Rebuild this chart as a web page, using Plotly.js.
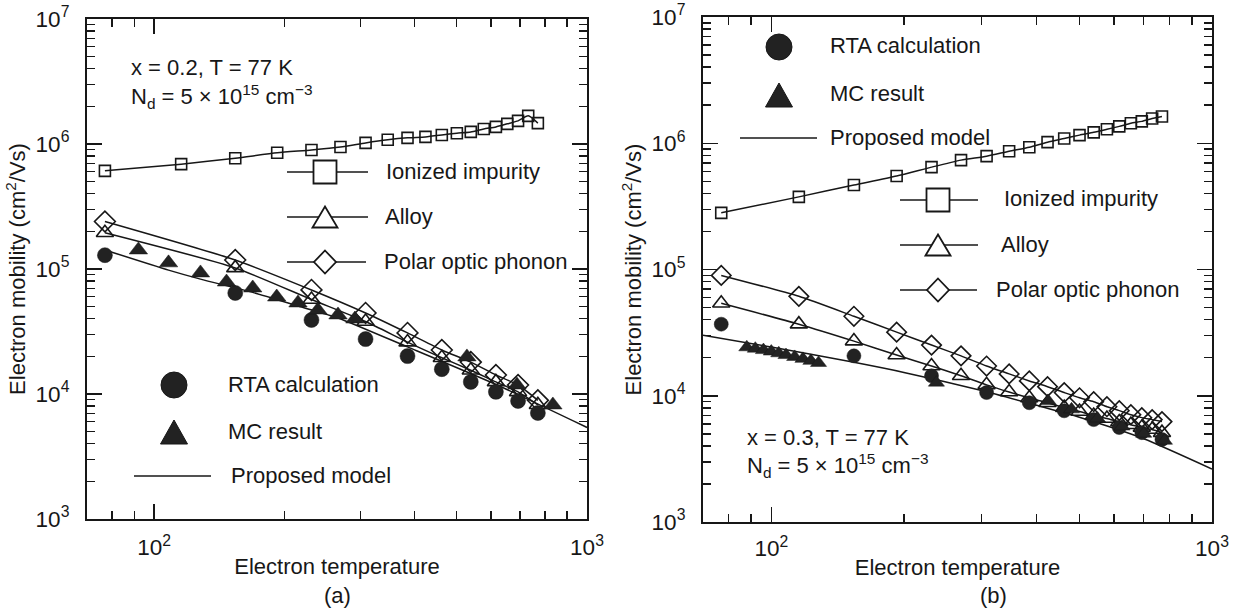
<!DOCTYPE html>
<html>
<head>
<meta charset="utf-8">
<script src="https://cdn.plot.ly/plotly-3.0.1.min.js"></script>
<style>
  html, body { margin: 0; padding: 0; background: #ffffff; }
  #chart { width: 1243px; height: 610px; }
</style>
</head>
<body>
<div id="chart"></div>
<script>
// ---------------- data ----------------
// Electron temperatures (K)
var T_all = [77, 115.5, 154, 192.5, 231, 269.5, 308, 346.5, 385, 423.5, 462, 500.5, 539, 577.5, 616, 654.5, 693, 731.5, 770];
var T_even = [77, 154, 231, 308, 385, 462, 539, 616, 693, 770];

// Panel (a): x = 0.2
var a_impurity = [6.1e5, 6.9e5, 7.7e5, 8.5e5, 8.95e5, 9.46e5, 1.02e6, 1.08e6, 1.12e6, 1.14e6, 1.18e6, 1.22e6, 1.25e6, 1.32e6, 1.37e6, 1.45e6, 1.53e6, 1.68e6, 1.47e6];
var a_alloy = [1.95e5, 1.02e5, 5.7e4, 3.8e4, 2.6e4, 1.95e4, 1.55e4, 1.25e4, 1.04e4, 8.2e3];
var a_pop = [2.4e5, 1.18e5, 6.8e4, 4.45e4, 3.08e4, 2.25e4, 1.8e4, 1.42e4, 1.18e4, 8.9e3];
var a_rta = [1.29e5, 6.43e4, 3.91e4, 2.75e4, 2.01e4, 1.58e4, 1.25e4, 1.04e4, 8.8e3, 7.05e3];
var a_mc_T = [92, 108, 128, 147, 169, 192, 215, 239, 266, 291, 528, 689, 834];
var a_mc = [1.42e5, 1.12e5, 9.3e4, 7.87e4, 7.05e4, 5.97e4, 5.35e4, 4.7e4, 4.29e4, 3.98e4, 1.98e4, 1.18e4, 8.17e3];
var a_model_T = [77, 108, 128, 169, 215, 266, 385, 620, 1000];
var a_model = [1.42e5, 9.8e4, 8.3e4, 6.5e4, 5.06e4, 4.06e4, 2.38e4, 1.18e4, 5.4e3];

// Panel (b): x = 0.3
var b_impurity = [2.81e5, 3.76e5, 4.67e5, 5.5e5, 6.47e5, 7.35e5, 7.9e5, 8.65e5, 9.3e5, 1.02e6, 1.09e6, 1.16e6, 1.22e6, 1.29e6, 1.36e6, 1.44e6, 1.49e6, 1.57e6, 1.63e6];
var b_alloy = [5.4e4, 3.69e4, 2.71e4, 2.1e4, 1.72e4, 1.44e4, 1.22e4, 1.07e4, 9.6e3, 8.8e3, 8.05e3, 7.5e3, 6.96e3, 6.6e3, 6.2e3, 5.9e3, 5.6e3, 5.4e3, 5.1e3];
var b_pop = [8.98e4, 6.13e4, 4.26e4, 3.19e4, 2.52e4, 2.07e4, 1.72e4, 1.49e4, 1.31e4, 1.18e4, 1.06e4, 9.64e3, 8.97e3, 8.19e3, 7.62e3, 7.08e3, 6.71e3, 6.47e3, 6.24e3];
var b_rta = [3.69e4, 2.07e4, 1.44e4, 1.06e4, 8.8e3, 7.6e3, 6.47e3, 5.6e3, 5.1e3, 4.5e3];
var b_mc_T = [88, 92, 96, 100, 104, 108, 113, 118, 123, 128, 237, 425, 480, 550, 625, 700, 780];
var b_mc = [2.42e4, 2.36e4, 2.3e4, 2.24e4, 2.17e4, 2.1e4, 2.03e4, 1.96e4, 1.89e4, 1.82e4, 1.27e4, 9.1e3, 7.8e3, 6.6e3, 5.7e3, 5.0e3, 4.4e3];
var b_model_T = [70, 100, 154, 200, 300, 400, 500, 700, 1000];
var b_model = [3.02e4, 2.43e4, 1.84e4, 1.53e4, 1.10e4, 8.4e3, 6.76e3, 4.57e3, 2.63e3];

// Texts
var xTitle = 'Electron temperature';
var yTitle = 'Electron mobility (cm<sup>2</sup>/Vs)';
var seriesNames = ['Ionized impurity', 'Alloy', 'Polar optic phonon', 'RTA calculation', 'MC result', 'Proposed model'];

// ---------------- styling ----------------
var W = 1243, H = 610;
var FONT = 'Liberation Sans, Arial, Helvetica, sans-serif';
var INK = '#171717';
function PX(px) { return px / W; }
function PY(py) { return 1 - py / H; }

function lineTrace(x, y, xa, ya, shape) {
  return { x: x, y: y, xaxis: xa, yaxis: ya, type: 'scatter', mode: 'lines',
           line: { color: INK, width: 1.5, shape: shape || 'spline', smoothing: 0.6 },
           showlegend: false, hoverinfo: 'skip' };
}
function markTrace(name, x, y, xa, ya, symbol, size, withLine) {
  var open = symbol.indexOf('open') >= 0;
  return { name: name, x: x, y: y, xaxis: xa, yaxis: ya, type: 'scatter',
           mode: withLine ? 'lines+markers' : 'markers',
           line: { color: INK, width: 1.5, shape: 'spline', smoothing: 0.6 },
           marker: { symbol: symbol, size: size, color: open ? INK : '#222222',
                     line: { color: INK, width: open ? 1.6 : 0.5 } },
           showlegend: false };
}

var traces = [
  // panel (a)
  markTrace(seriesNames[0], T_all, a_impurity, 'x', 'y', 'square-open', 11, true),
  markTrace(seriesNames[1], T_even, a_alloy, 'x', 'y', 'triangle-up-open', 15, true),
  markTrace(seriesNames[2], T_even, a_pop, 'x', 'y', 'diamond-open', 16, true),
  lineTrace(a_model_T, a_model, 'x', 'y'),
  markTrace(seriesNames[3], T_even, a_rta, 'x', 'y', 'circle', 15, false),
  markTrace(seriesNames[4], a_mc_T, a_mc, 'x', 'y', 'triangle-up', 16, false),
  // panel (b)
  markTrace(seriesNames[0], T_all, b_impurity, 'x2', 'y2', 'square-open', 11, true),
  markTrace(seriesNames[1], T_all, b_alloy, 'x2', 'y2', 'triangle-up-open', 15, true),
  markTrace(seriesNames[2], T_all, b_pop, 'x2', 'y2', 'diamond-open', 15, true),
  lineTrace(b_model_T, b_model, 'x2', 'y2'),
  markTrace(seriesNames[3], T_even, b_rta, 'x2', 'y2', 'circle', 14, false),
  markTrace(seriesNames[4], b_mc_T, b_mc, 'x2', 'y2', 'triangle-up', 14, false)
];

function axisBase() {
  return {
    type: 'log', dtick: 1, exponentformat: 'power',
    showgrid: false, zeroline: false, showline: true, linecolor: INK, linewidth: 2,
    mirror: 'allticks', ticks: 'inside', ticklen: 15, tickwidth: 1.5, tickcolor: INK,
    tickfont: { size: 18, color: INK, family: FONT }, ticklabelstandoff: 10,
    minor: { ticks: 'inside', ticklen: 8, tickwidth: 1.5, tickcolor: INK, dtick: 'D1', showgrid: false }
  };
}
function xAxis(domain, anchor, standoff) {
  var a = axisBase();
  a.range = [Math.log10(70), 3];
  a.domain = domain; a.anchor = anchor;
  a.ticklabelstandoff = standoff;
  a.title = { text: xTitle, font: { size: 22, color: INK, family: FONT }, standoff: 0 };
  return a;
}
function yAxis(domain, anchor) {
  var a = axisBase();
  a.range = [3, 7];
  a.domain = domain; a.anchor = anchor;
  a.ticklabelstandoff = 12;
  a.title = { text: yTitle, font: { size: 22, color: INK, family: FONT }, standoff: 4 };
  return a;
}

// ---------------- legend keys (layout decorations) ----------------
var shapes = [];
var annotations = [];
function addLine(x0, x1, y) {
  shapes.push({ type: 'line', xref: 'paper', yref: 'paper', x0: PX(x0), x1: PX(x1), y0: PY(y), y1: PY(y),
                line: { color: INK, width: 1.5 } });
}
function addSymbol(kind, cx, cy, w, h) {
  var st = { xref: 'paper', yref: 'paper', line: { color: INK, width: 1.8 }, fillcolor: '#ffffff' };
  if (kind === 'square') {
    st.type = 'rect'; st.x0 = PX(cx - w / 2); st.x1 = PX(cx + w / 2); st.y0 = PY(cy + h / 2); st.y1 = PY(cy - h / 2);
  } else if (kind === 'circle') {
    st.type = 'circle'; st.x0 = PX(cx - w / 2); st.x1 = PX(cx + w / 2); st.y0 = PY(cy + h / 2); st.y1 = PY(cy - h / 2);
    st.fillcolor = '#222222'; st.line = { color: INK, width: 1 };
  } else if (kind === 'tri' || kind === 'trifill') {
    st.type = 'path';
    st.path = 'M' + PX(cx - w / 2) + ',' + PY(cy + h / 2) + ' L' + PX(cx + w / 2) + ',' + PY(cy + h / 2) +
              ' L' + PX(cx) + ',' + PY(cy - h / 2) + ' Z';
    if (kind === 'trifill') { st.fillcolor = '#222222'; st.line = { color: INK, width: 1 }; }
  } else if (kind === 'diamond') {
    st.type = 'path';
    st.path = 'M' + PX(cx) + ',' + PY(cy - h / 2) + ' L' + PX(cx + w / 2) + ',' + PY(cy) +
              ' L' + PX(cx) + ',' + PY(cy + h / 2) + ' L' + PX(cx - w / 2) + ',' + PY(cy) + ' Z';
  }
  shapes.push(st);
}
function addText(text, x, y, anchor, yanchor) {
  annotations.push({ text: text, xref: 'paper', yref: 'paper', x: PX(x), y: PY(y),
                     xanchor: anchor || 'left', yanchor: yanchor || 'middle', showarrow: false,
                     font: { size: 22, color: INK, family: FONT } });
}

// panel (a) component legend
var keyA = [
  { kind: 'square', label: 0, cx: 325, cy: 172, w: 23, h: 23, l0: 287, l1: 368, tx: 384 },
  { kind: 'tri', label: 1, cx: 325, cy: 217, w: 25, h: 21, l0: 287, l1: 368, tx: 383 },
  { kind: 'diamond', label: 2, cx: 325, cy: 262, w: 22, h: 23, l0: 287, l1: 366, tx: 382 }
];
var keyA2 = [
  { kind: 'circle', label: 3, cx: 174, cy: 385, w: 26, h: 26, tx: 226 },
  { kind: 'trifill', label: 4, cx: 174, cy: 432, w: 27, h: 24, tx: 226 },
  { kind: 'none', label: 5, l0: 134, l1: 211, cy: 476, tx: 229 }
];
var keyB = [
  { kind: 'square', label: 0, cx: 938, cy: 200, w: 23, h: 23, l0: 900, l1: 978, tx: 1002 },
  { kind: 'tri', label: 1, cx: 938, cy: 245, w: 25, h: 21, l0: 900, l1: 978, tx: 999 },
  { kind: 'diamond', label: 2, cx: 938, cy: 290, w: 22, h: 23, l0: 900, l1: 977, tx: 994 }
];
var keyB2 = [
  { kind: 'circle', label: 3, cx: 779, cy: 47, w: 26, h: 26, tx: 828 },
  { kind: 'trifill', label: 4, cx: 779, cy: 95, w: 27, h: 24, tx: 828 },
  { kind: 'none', label: 5, l0: 740, l1: 817, cy: 138, tx: 828 }
];
[keyA, keyA2, keyB, keyB2].forEach(function (grp) {
  grp.forEach(function (k) {
    if (k.l0 !== undefined) addLine(k.l0, k.l1, k.cy);
    if (k.kind !== 'none') addSymbol(k.kind, k.cx, k.cy, k.w, k.h);
    addText(seriesNames[k.label], k.tx, k.cy - 1);
  });
});

// condition notes and panel labels
addText('x = 0.2, T = 77 K', 129, 68);
addText('N<sub>d</sub> = 5 \u00d7 10<sup>15</sup> cm<sup>\u22123</sup>', 129, 96);
addText('x = 0.3, T = 77 K', 745, 437);
addText('N<sub>d</sub> = 5 \u00d7 10<sup>15</sup> cm<sup>\u22123</sup>', 745, 465);
addText('(a)', 337, 610, 'center', 'bottom');
addText('(b)', 993, 610, 'center', 'bottom');

var layout = {
  width: W, height: H,
  margin: { l: 0, r: 0, t: 0, b: 0 },
  paper_bgcolor: '#ffffff', plot_bgcolor: '#ffffff',
  font: { family: FONT, color: INK, size: 18 },
  showlegend: false,
  xaxis: xAxis([PX(87), PX(587)], 'y', 8),
  yaxis: yAxis([PY(519), PY(19)], 'x'),
  xaxis2: xAxis([PX(703), PX(1212)], 'y2', 6),
  yaxis2: yAxis([PY(522), PY(17)], 'x2'),
  shapes: shapes,
  annotations: annotations
};

Plotly.newPlot('chart', traces, layout, { staticPlot: true, displayModeBar: false });
</script>
</body>
</html>
